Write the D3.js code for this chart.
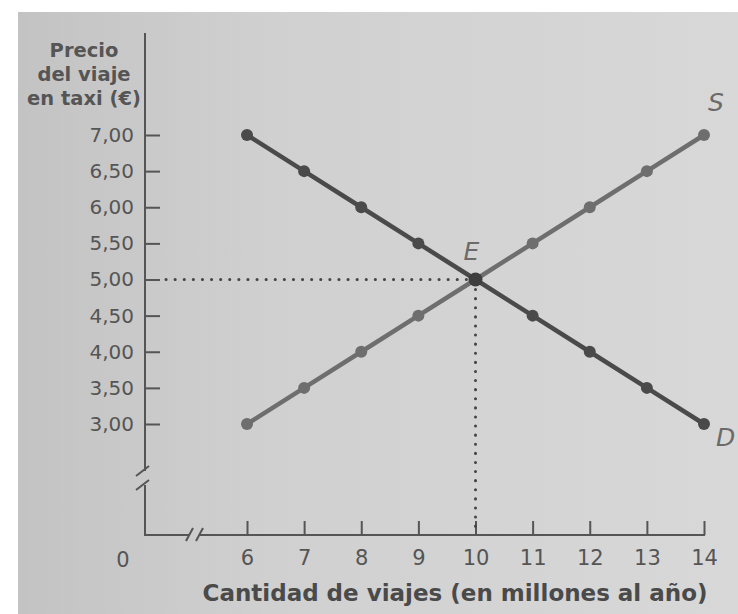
<!DOCTYPE html>
<html><head><meta charset="utf-8">
<script src="https://cdn.jsdelivr.net/npm/d3@7"></script>
<style>html,body{margin:0;padding:0;background:#fff;}svg{display:block;}</style>
</head><body>
<script>
// Data
const quantities = [6, 7, 8, 9, 10, 11, 12, 13, 14];
const demandPrices = [7.00, 6.50, 6.00, 5.50, 5.00, 4.50, 4.00, 3.50, 3.00];
const supplyPrices = [3.00, 3.50, 4.00, 4.50, 5.00, 5.50, 6.00, 6.50, 7.00];
const priceTicks = [3.00, 3.50, 4.00, 4.50, 5.00, 5.50, 6.00, 6.50, 7.00];
const quantityTicks = [6, 7, 8, 9, 10, 11, 12, 13, 14];
const equilibrium = {q: 10, p: 5.00};
const yTitle = ["Precio", "del viaje", "en taxi (€)"];
const xTitle = "Cantidad de viajes (en millones al año)";

const W = 738, H = 614;
const svg = d3.select("body").append("svg").attr("width", W).attr("height", H);

const defs = svg.append("defs");
const grad = defs.append("linearGradient").attr("id", "paper").attr("x1", 0).attr("x2", 1).attr("y1", 0).attr("y2", 0);
grad.append("stop").attr("offset", "0%").attr("stop-color", "#c3c3c3");
grad.append("stop").attr("offset", "35%").attr("stop-color", "#d0d0d0");
grad.append("stop").attr("offset", "100%").attr("stop-color", "#d8d8d8");
svg.append("rect").attr("x", 18).attr("y", 12).attr("width", W - 18).attr("height", H - 12).attr("fill", "url(#paper)");

const x = d3.scaleLinear().domain([6, 14]).range([247, 704]);
const y = d3.scaleLinear().domain([3, 7]).range([424, 135]);

const axisColor = "#555";
const textColor = "#555";
const font = "'DejaVu Sans', sans-serif";

const x0 = 145, yAxisTop = 33, xAxisY = 535;

// Axis lines with breaks
const ax = svg.append("g").attr("stroke", axisColor).attr("stroke-width", 2).attr("fill", "none");
ax.append("line").attr("x1", x0).attr("x2", x0).attr("y1", yAxisTop).attr("y2", 471);
ax.append("line").attr("x1", x0).attr("x2", x0).attr("y1", 485).attr("y2", xAxisY);
ax.append("line").attr("x1", 136).attr("x2", 149).attr("y1", 476).attr("y2", 466);
ax.append("line").attr("x1", 136).attr("x2", 149).attr("y1", 490).attr("y2", 480);
ax.append("line").attr("x1", x0 - 1).attr("x2", 189).attr("y1", xAxisY).attr("y2", xAxisY);
ax.append("line").attr("x1", 199).attr("x2", x(14) + 1).attr("y1", xAxisY).attr("y2", xAxisY);
ax.append("line").attr("x1", 186).attr("x2", 193).attr("y1", 541).attr("y2", 528);
ax.append("line").attr("x1", 196).attr("x2", 203).attr("y1", 541).attr("y2", 528);

// Y axis
const yAxis = d3.axisLeft(y).tickValues(priceTicks).tickSizeInner(-15).tickSizeOuter(0).tickPadding(11)
  .tickFormat(d => d.toFixed(2).replace(".", ","));
const gy = svg.append("g").attr("transform", `translate(${x0},0)`).call(yAxis);
gy.select(".domain").remove();
gy.selectAll("line").attr("stroke", axisColor).attr("stroke-width", 2);
gy.selectAll("text").attr("font-family", font).attr("font-size", 20).attr("fill", textColor);

// X axis
const xAxis = d3.axisBottom(x).tickValues(quantityTicks).tickSizeInner(-14).tickSizeOuter(0).tickPadding(15);
const gx = svg.append("g").attr("transform", `translate(0,${xAxisY})`).call(xAxis);
gx.select(".domain").remove();
gx.selectAll("line").attr("stroke", axisColor).attr("stroke-width", 2);
gx.selectAll("text").attr("font-family", font).attr("font-size", 21).attr("fill", textColor);
svg.append("text").attr("x", 123).attr("y", 567).attr("text-anchor", "middle")
  .attr("font-family", font).attr("font-size", 21).attr("fill", textColor).text("0");

// Dotted equilibrium guides
const dots = svg.append("g").attr("stroke", "#444").attr("stroke-width", 3).attr("stroke-linecap", "round").attr("stroke-dasharray", "0.1 9");
dots.append("line").attr("x1", 166).attr("x2", x(equilibrium.q) - 8).attr("y1", y(equilibrium.p)).attr("y2", y(equilibrium.p));
dots.append("line").attr("x1", x(equilibrium.q)).attr("x2", x(equilibrium.q)).attr("y1", y(equilibrium.p) + 10).attr("y2", xAxisY - 6);

// Curves
const line = d3.line().x(d => x(d[0])).y(d => y(d[1]));
const supply = quantities.map((q, i) => [q, supplyPrices[i]]);
const demand = quantities.map((q, i) => [q, demandPrices[i]]);

function drawSeries(data, color) {
  svg.append("path").datum(data).attr("d", line).attr("fill", "none").attr("stroke", color).attr("stroke-width", 4.5);
  svg.append("g").selectAll("circle").data(data).join("circle")
    .attr("cx", d => x(d[0])).attr("cy", d => y(d[1])).attr("r", 6).attr("fill", color);
}
drawSeries(supply, "#6e6e6e");
drawSeries(demand, "#4a4a4a");
svg.append("circle").attr("cx", x(equilibrium.q)).attr("cy", y(equilibrium.p)).attr("r", 7).attr("fill", "#3e3e3e");

// Curve labels
const lab = (t, xx, yy) => svg.append("text").attr("x", xx).attr("y", yy).attr("font-family", font)
  .attr("font-style", "italic").attr("font-size", 25).attr("fill", "#6a6a6a").text(t);
lab("S", x(14) + 4, y(7) - 24);
lab("D", x(14) + 12, y(3) + 22);
lab("E", x(equilibrium.q) - 12, y(equilibrium.p) - 20);

// Titles
const yt = svg.append("text").attr("text-anchor", "middle").attr("font-family", font).attr("font-weight", "bold")
  .attr("font-size", 19.5).attr("fill", textColor);
yTitle.forEach((t, i) => yt.append("tspan").attr("x", 84).attr("y", 57 + i * 24).text(t));

svg.append("text").attr("x", 455).attr("y", 601).attr("text-anchor", "middle").attr("font-family", font)
  .attr("font-weight", "bold").attr("font-size", 23).attr("fill", "#4a4a4a").text(xTitle);
</script>
</body></html>
